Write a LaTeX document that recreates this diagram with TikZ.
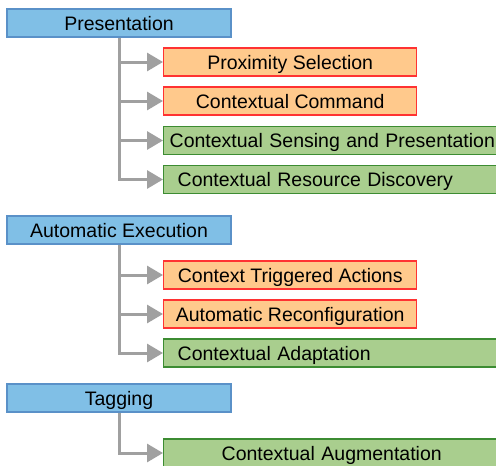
\documentclass[tikz,border=0pt]{standalone}
\usepackage{fontspec}
\setmainfont{Liberation Sans}
\usetikzlibrary{arrows.meta}
\definecolor{bluefill}{RGB}{128,191,230}
\definecolor{blueline}{RGB}{90,145,200}
\definecolor{orangefill}{RGB}{255,201,140}
\definecolor{redline}{RGB}{255,50,50}
\definecolor{greenfill}{RGB}{169,206,142}
\definecolor{greenline}{RGB}{60,140,50}
\definecolor{connector}{RGB}{160,160,160}
\tikzset{
  x=1pt, y=-1pt,
  base/.style={font=\fontsize{19.5}{22}\selectfont, text height=14pt, text depth=0pt,
    minimum height=28pt, inner ysep=0pt, line width=1.4pt},
  parentbox/.style={base, draw=blueline, fill=bluefill, minimum width=224pt, inner xsep=0pt},
  orangebox/.style={base, draw=redline, fill=orangefill, minimum width=253pt, inner xsep=0pt, anchor=west},
  greenbox/.style={base, draw=greenline, fill=greenfill, text width=380pt, align=left, inner xsep=0pt, anchor=west},
  link/.style={draw=connector, line width=3pt, -{Triangle[length=16pt,width=18pt]}}
}
\begin{document}
\begin{tikzpicture}
\useasboundingbox (0,0) rectangle (496,466);
\clip (0,0) rectangle (496,466);
\fill[white] (0,0) rectangle (496,466);

\node[parentbox] (p1) at (119,23) {Presentation};
\node[orangebox] (c11) at (163,62) {Proximity Selection};
\node[orangebox] (c12) at (163,101) {Contextual Command};
\node[greenbox] (c13) at (163,140.5) {\hspace*{6pt}Contextual Sensing and Presentation};
\node[greenbox] (c14) at (163,179.5) {\hspace*{14pt}Contextual Resource Discovery};

\node[parentbox] (p2) at (119,230) {Automatic Execution};
\node[orangebox] (c21) at (163,275) {Context Triggered Actions};
\node[orangebox] (c22) at (163,314) {Automatic Reconfiguration};
\node[greenbox] (c23) at (163,353) {\hspace*{14pt}Contextual Adaptation};

\node[parentbox] (p3) at (119,398) {Tagging};
\node[greenbox] (c31) at (163,453) {\hspace*{58pt}Contextual Augmentation};

\foreach \p/\c in {p1/c11,p1/c12,p1/c13,p1/c14,p2/c21,p2/c22,p2/c23,p3/c31}
  \draw[link] (\p.south) |- (\c.west);
\end{tikzpicture}
\end{document}
